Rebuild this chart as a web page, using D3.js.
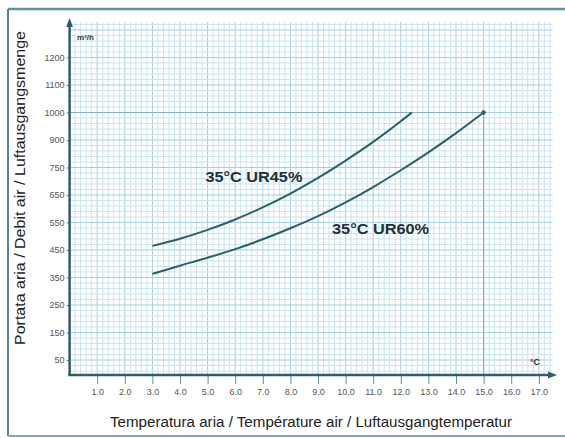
<!DOCTYPE html>
<html><head><meta charset="utf-8">
<script src="https://cdn.jsdelivr.net/npm/d3@7"></script>
<style>body{margin:0;background:#fff}svg{display:block}</style>
</head><body>
<svg id="c" width="565" height="438"></svg>
<script>
// ---- data ----
const xTickValues = [1,2,3,4,5,6,7,8,9,10,11,12,13,14,15,16,17];
const xTickLabels = ["1.0","2.0","3.0","4.0","5.0","6.0","7.0","8.0","9.0","10.0","11.0","12.0","13.0","14.0","15.0","16.0","17.0"];
const yTickValues = [100,200,300,400,500,600,700,800,900,1000,1100,1200];
const yTickLabels = ["50","150","250","350","450","550","650","750","900","1000","1100","1200"];
const ur45X = [3,4,5,6,7,8,9,10,11,12,12.4];
const ur45Y = [515,541,573,611,655,705,762,825,893,968,1000];
const ur60X = [3,4,5,6,7,8,9,10,11,12,13,14,15];
const ur60Y = [413,443,472,503,539,579,623,673,729,790,855,925,1000];
const refX = 15, refY = 1000;
const labels = [{t:"35°C UR45%", x:4.92, y:765},{t:"35°C UR60%", x:9.51, y:576}];

const svg = d3.select("#c");
const x = d3.scaleLinear().domain([0,17.5]).range([69.6,552.6]);
const y = d3.scaleLinear().domain([45.5,1329]).range([375,22]);

// frame
svg.append("line").attr("x1",8).attr("x2",565).attr("y1",9).attr("y2",9).attr("stroke","#5e93a5").attr("stroke-width",2.5);
svg.append("line").attr("x1",8).attr("x2",8).attr("y1",9).attr("y2",436).attr("stroke","#4f8597").attr("stroke-width",2);
svg.append("line").attr("x1",8).attr("x2",565).attr("y1",436).attr("y2",436).attr("stroke","#7fa9b8").attr("stroke-width",2);

// grid
const g = svg.append("g");
const xMinor = d3.range(1, 88).map(i => i*0.2);
const yMinor = d3.range(3, 67).map(i => i*20);
g.selectAll(".vx").data(xMinor).join("line")
  .attr("x1",d=>x(d)).attr("x2",d=>x(d)).attr("y1",y(1329)).attr("y2",y(45.5))
  .attr("stroke", d=>Math.abs(d-Math.round(d))<1e-6 ? "#a3cfe2" : "#c9e4f0").attr("stroke-width",1);
g.selectAll(".hy").data(yMinor).join("line")
  .attr("x1",x(0)).attr("x2",x(17.5)).attr("y1",d=>y(d)).attr("y2",d=>y(d))
  .attr("stroke", d=>d%100===0 ? "#a3cfe2" : "#c9e4f0").attr("stroke-width",1);

// reference lines
svg.append("line").attr("x1",x(0)).attr("x2",x(refX)).attr("y1",y(refY)).attr("y2",y(refY)).attr("stroke","#7fb2c8").attr("stroke-width",1.2);
svg.append("line").attr("x1",x(refX)).attr("x2",x(refX)).attr("y1",y(refY)).attr("y2",y(45.5)).attr("stroke","#7fb2c8").attr("stroke-width",1.2);

// axes
const axisCol = "#2f5c6a";
const xa = svg.append("g").attr("transform","translate(0,375)")
  .call(d3.axisBottom(x).tickValues(xTickValues).tickFormat((d,i)=>xTickLabels[i]).tickSize(9).tickPadding(5));
xa.select(".domain").remove();
xa.selectAll("line").attr("stroke","#5f8f9f").attr("stroke-width",1);
xa.selectAll("text").attr("font-family","Liberation Sans Narrow, Liberation Sans, Arial").attr("font-size",9).attr("fill","#555");
const ya = svg.append("g").attr("transform","translate(69.6,0)")
  .call(d3.axisLeft(y).tickValues(yTickValues).tickFormat((d,i)=>yTickLabels[i]).tickSize(3).tickPadding(2));
ya.select(".domain").remove();
ya.selectAll("line").attr("stroke","#5f8f9f");
ya.selectAll("text").attr("font-family","Liberation Sans Narrow, Liberation Sans, Arial").attr("font-size",9).attr("fill","#555");

svg.append("line").attr("x1",69.6).attr("x2",69.6).attr("y1",24).attr("y2",376).attr("stroke",axisCol).attr("stroke-width",2.5);
svg.append("line").attr("x1",68.4).attr("x2",550).attr("y1",375).attr("y2",375).attr("stroke",axisCol).attr("stroke-width",2.5);
svg.append("path").attr("d","M69.6,18 L66.2,27 L73,27 Z").attr("fill",axisCol);
svg.append("path").attr("d","M557,375 L548,371.6 L548,378.4 Z").attr("fill",axisCol);

// curves
const line = d3.line().x(d=>x(d[0])).y(d=>y(d[1])).curve(d3.curveMonotoneX);
[[ur45X,ur45Y],[ur60X,ur60Y]].forEach(([xs,ys])=>{
  svg.append("path").datum(xs.map((v,i)=>[v,ys[i]])).attr("d",line)
    .attr("fill","none").attr("stroke","#2c5f6e").attr("stroke-width",2);
});
svg.append("circle").attr("cx",x(refX)).attr("cy",y(refY)).attr("r",2.2).attr("fill","#2c5f6e");

// annotations
svg.selectAll(".ann").data(labels).join("text")
  .attr("x",d=>x(d.x)).attr("y",d=>y(d.y)).attr("dy","0.35em")
  .attr("font-family","Liberation Sans, Arial").attr("font-weight","bold").attr("font-size",14)
  .attr("textLength",97).attr("lengthAdjust","spacingAndGlyphs")
  .attr("fill","#1f2f36").text(d=>d.t);

// units
svg.append("text").attr("x",77).attr("y",40).attr("font-family","Liberation Sans, Arial").attr("font-size",8).attr("font-weight","bold").attr("fill","#333").text("m³/h");
svg.append("text").attr("x",530).attr("y",365).attr("font-family","Liberation Sans, Arial").attr("font-size",9).attr("font-weight","bold").attr("fill","#333").text("°C");

// titles
svg.append("text").attr("transform","translate(25,188) rotate(-90)").attr("text-anchor","middle")
  .attr("font-family","Liberation Sans Narrow, Liberation Sans, Arial").attr("font-size",14).attr("fill","#222")
  .attr("textLength",314).attr("lengthAdjust","spacingAndGlyphs")
  .text("Portata aria / Debit air / Luftausgangsmenge");
svg.append("text").attr("x",311).attr("y",427).attr("text-anchor","middle")
  .attr("font-family","Liberation Sans Narrow, Liberation Sans, Arial").attr("font-size",14).attr("fill","#222")
  .attr("textLength",402).attr("lengthAdjust","spacingAndGlyphs")
  .text("Temperatura aria  / Température air / Luftausgangtemperatur");
</script>
</body></html>
